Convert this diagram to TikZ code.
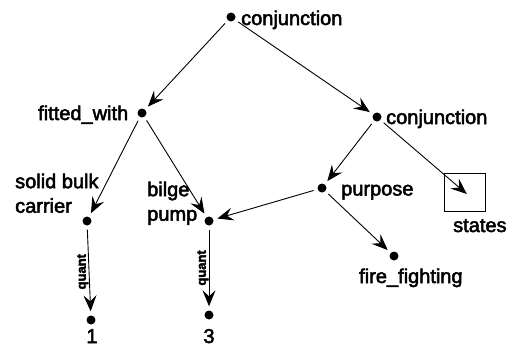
\documentclass[tikz,border=0pt]{standalone}
\usepackage{fontspec}
\setmainfont[FakeBold=2.5]{Liberation Sans}
\usetikzlibrary{arrows.meta}
\tikzset{
  dot/.style={circle,fill=black,inner sep=0pt,minimum size=9pt},
  lbl/.style={inner sep=0pt,anchor=base west,font=\fontsize{20}{25}\selectfont},
  lblc/.style={inner sep=0pt,anchor=base,font=\fontsize{20}{25}\selectfont},
  mlbl/.style={inner sep=0pt,anchor=north west,align=left,font=\fontsize{20}{24.5}\selectfont},
  qlbl/.style={inner sep=0pt,rotate=90,anchor=south,font=\bfseries\fontsize{13}{15}\selectfont},
  edge/.style={draw,line width=0.9pt,shorten >=4pt,shorten <=4pt,
    -{Stealth[length=16pt,width=13pt,inset=6pt]}},
}
\begin{document}
\begin{tikzpicture}[x=1pt,y=-1pt]
\useasboundingbox (0,0) rectangle (508,346);
% dots
\node[dot] (c1) at (231,17) {};
\node[dot] (fw) at (142,113) {};
\node[dot] (c2) at (377,117) {};
\node[dot] (sbc) at (87,221) {};
\node[dot] (bp) at (209,221) {};
\node[dot] (pu) at (322,188) {};
\node[dot] (ff) at (394,256) {};
\node[dot] (one) at (91,320) {};
\node[dot] (three) at (209,315) {};
\node[draw,line width=0.8pt,minimum width=41pt,minimum height=38pt,inner sep=0pt] (st) at (464.5,192) {};
% labels
\node[lbl] (lc1) at (241,25) {conjunction};
\node[lbl] (lfw) at (38,120) {fitted\_with};
\node[lbl] (lc2) at (386,124) {conjunction};
\node[mlbl] (lsbc) at (15,173.5) {solid bulk\\carrier};
\node[mlbl] (lbp) at (147,181.5) {bilge\\pump};
\node[lbl] (lpu) at (341,195.5) {purpose};
\node[lbl] (lst) at (453,232) {states};
\node[lbl] (lff) at (359,283) {fire\_fighting};
\node[lblc] (l1) at (92,343) {1};
\node[lblc] (l3) at (209,343) {3};
% edges
\path[edge] (c1) -- (fw);
\path[edge] (c1) -- (c2);
\path[edge] (fw) -- (sbc);
\path[edge] (fw) -- (bp);
\path[edge] (c2) -- (pu);
\path[edge,shorten >=-3pt] (c2) -- (st.center);
\path[edge] (pu) -- (bp);
\path[edge] (pu) -- (ff);
\path[edge] (sbc) -- node[qlbl,pos=0.48,xshift=-3pt] {quant} (one);
\path[edge] (bp) -- node[qlbl,pos=0.44,xshift=-5pt] {quant} (three);
\end{tikzpicture}
\end{document}
